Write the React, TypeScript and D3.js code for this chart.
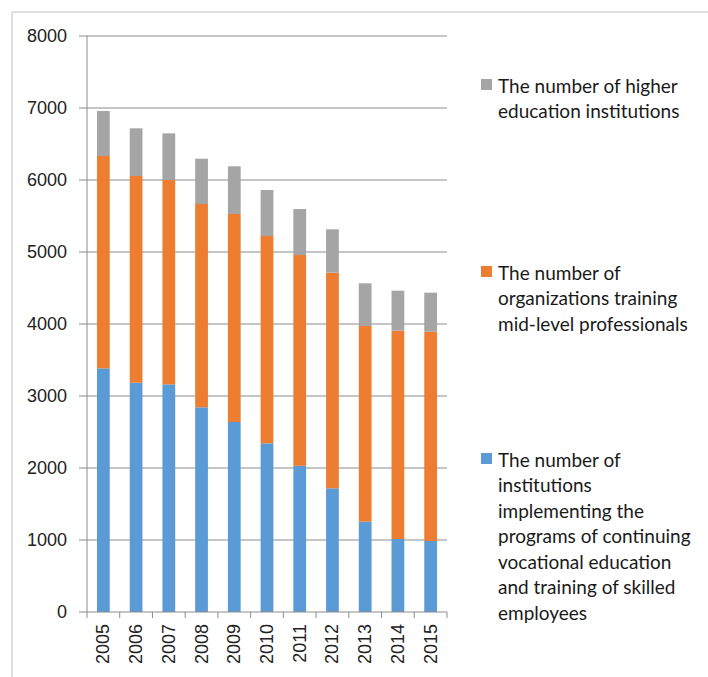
import React from 'react';
import * as d3 from 'd3';

const years = ['2005', '2006', '2007', '2008', '2009', '2010', '2011', '2012', '2013', '2014', '2015'];
// blue: continuing vocational education / skilled employees
const skilled = [3384, 3185, 3162, 2843, 2639, 2343, 2030, 1718, 1255, 1014, 986];
// orange: organizations training mid-level professionals
const midLevel = [2949, 2871, 2838, 2824, 2889, 2879, 2928, 2995, 2717, 2893, 2907];
// gray: higher education institutions
const higher = [625, 662, 648, 629, 662, 639, 639, 602, 593, 556, 542];
const yTicks = [0, 1000, 2000, 3000, 4000, 5000, 6000, 7000, 8000];

const seriesKeys = ['skilled', 'midLevel', 'higher'];
const colors: Record<string, string> = { skilled: '#5B9BD5', midLevel: '#ED7D31', higher: '#A5A5A5' };

const legendItems = [
  { key: 'higher', y: 85, lines: ['The number of higher', 'education institutions'] },
  { key: 'midLevel', y: 272, lines: ['The number of', 'organizations training', 'mid-level professionals'] },
  {
    key: 'skilled',
    y: 459,
    lines: [
      'The number of',
      'institutions',
      'implementing the',
      'programs of continuing',
      'vocational education',
      'and training of skilled',
      'employees',
    ],
  },
];

const W = 708;
const H = 677;
const left = 87;
const right = 447;
const top = 36;
const bottom = 612;

const App: React.FC = () => {
  const rows = years.map((y, i) => ({ year: y, skilled: skilled[i], midLevel: midLevel[i], higher: higher[i] }));
  const stack = d3.stack<any>().keys(seriesKeys);
  const layers = stack(rows);

  const x = d3.scaleBand<string>().domain(years).range([left, right]).paddingInner(0.61).paddingOuter(0.305);
  const y = d3.scaleLinear().domain([0, 8000]).range([bottom, top]);
  const step = x.step();

  const axisFont = '"Liberation Sans", Arial, sans-serif';
  const legendFont = 'Lato, "Open Sans", sans-serif';

  return (
    <div style={{ position: 'absolute', left: 0, top: 0 }}>
      <svg width={W} height={H} style={{ display: 'block', background: '#fff' }}>
        {/* outer frame */}
        <line x1={12} y1={12} x2={W} y2={12} stroke="#d4d4d4" strokeWidth={1.5} />
        <line x1={12} y1={12} x2={12} y2={H} stroke="#d4d4d4" strokeWidth={1.5} />

        {/* gridlines + y labels */}
        {yTicks.map((t) => (
          <g key={t}>
            {t > 0 && <line x1={left} x2={right} y1={y(t)} y2={y(t)} stroke="#8c8c8c" strokeWidth={1} />}
            <line x1={left - 8} x2={left} y1={y(t)} y2={y(t)} stroke="#8c8c8c" strokeWidth={1} />
            <text
              x={67}
              y={y(t)}
              textAnchor="end"
              dominantBaseline="central"
              fontFamily={axisFont}
              fontSize={18}
              fill="#222"
            >
              {t}
            </text>
          </g>
        ))}

        {/* bars */}
        {layers.map((layer) => (
          <g key={layer.key} fill={colors[layer.key]}>
            {layer.map((d, i) => (
              <rect
                key={years[i]}
                x={x(years[i])}
                y={y(d[1])}
                width={x.bandwidth()}
                height={y(d[0]) - y(d[1])}
              />
            ))}
          </g>
        ))}

        {/* axes */}
        <line x1={left} x2={left} y1={top} y2={bottom} stroke="#8c8c8c" strokeWidth={1} />
        <line x1={left} x2={right} y1={bottom} y2={bottom} stroke="#8c8c8c" strokeWidth={1} />
        {years.map((yr, i) => (
          <line
            key={'t' + yr}
            x1={left + step * i}
            x2={left + step * i}
            y1={bottom}
            y2={bottom + 6}
            stroke="#8c8c8c"
          />
        ))}
        <line x1={right} x2={right} y1={bottom} y2={bottom + 6} stroke="#8c8c8c" />

        {/* x labels */}
        {years.map((yr) => {
          const cx = (x(yr) as number) + x.bandwidth() / 2;
          return (
            <text
              key={'l' + yr}
              transform={`translate(${cx},${bottom + 12}) rotate(-90)`}
              textAnchor="end"
              dominantBaseline="central"
              fontFamily={axisFont}
              fontSize={18}
              fill="#222"
            >
              {yr}
            </text>
          );
        })}

        {/* legend */}
        {legendItems.map((item) => (
          <g key={item.key}>
            <rect x={481} y={item.y - 6} width={11} height={11} fill={colors[item.key]} />
            {item.lines.map((ln, j) => (
              <text
                key={j}
                x={498}
                y={item.y + j * 25.5}
                dominantBaseline="central"
                fontFamily={legendFont}
                fontSize={19}
                fill="#1a1a1a"
              >
                {ln}
              </text>
            ))}
          </g>
        ))}
      </svg>
    </div>
  );
};

export default App;
